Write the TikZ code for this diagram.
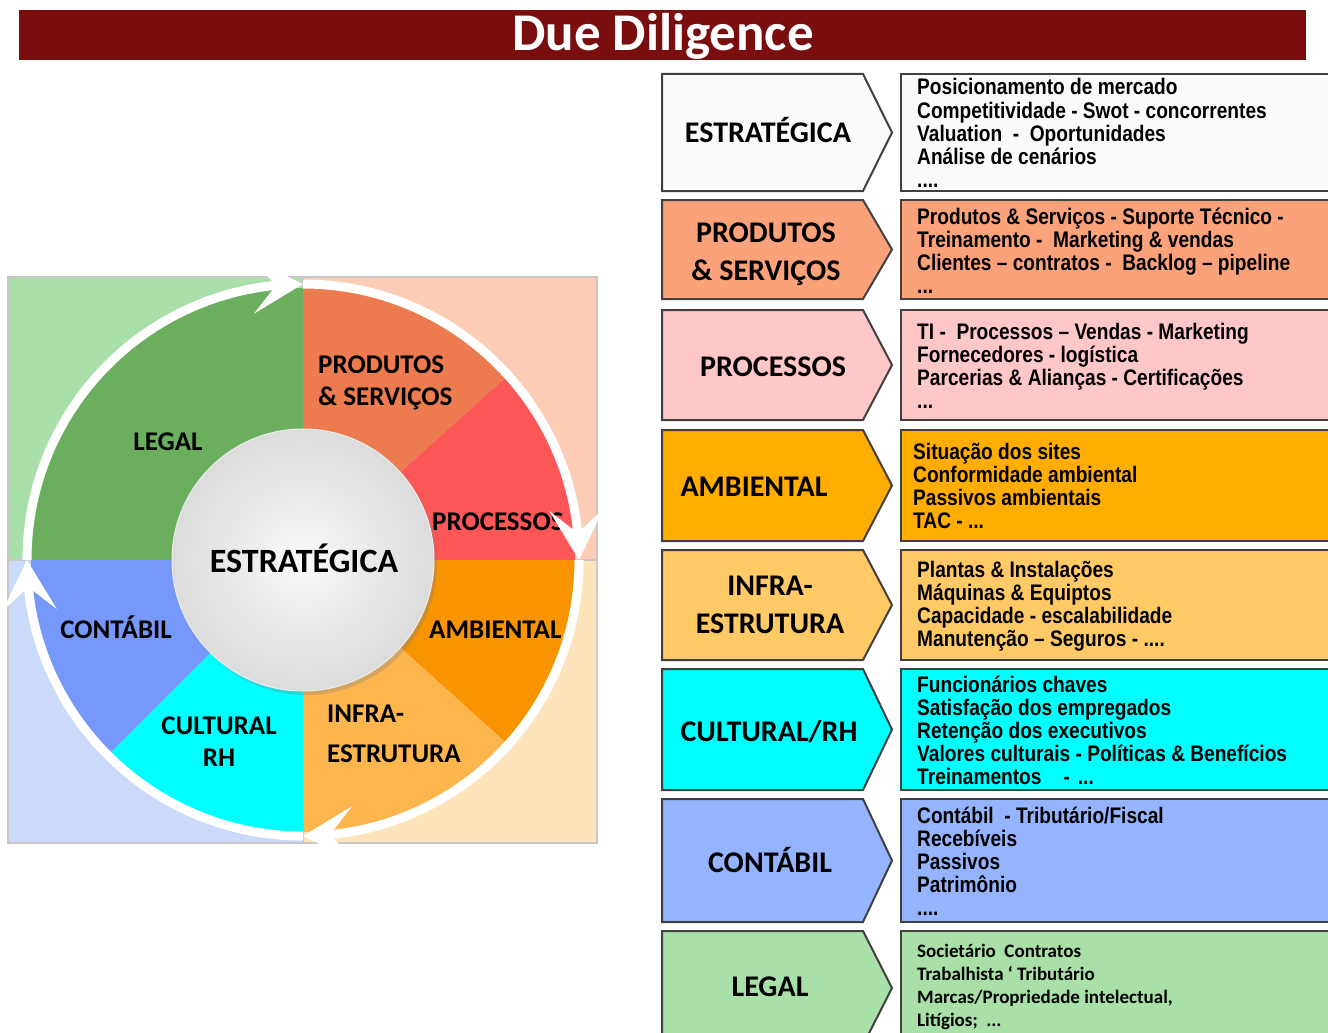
\documentclass[tikz,border=0pt]{standalone}
\usepackage{fontspec}
\setmainfont{Carlito}
\newfontfamily\bodyfont[FakeStretch=0.85]{Liberation Sans}
\usetikzlibrary{arrows.meta,bending,shadows}
\definecolor{titlered}{HTML}{7A0E0E}
\definecolor{sqTL}{HTML}{A9DFA9}
\definecolor{sqTR}{HTML}{FCCDB4}
\definecolor{sqBL}{HTML}{CBDAFB}
\definecolor{sqBR}{HTML}{FDE4BB}
\definecolor{secLegal}{HTML}{6BAF5E}
\definecolor{secProd}{HTML}{EC7C50}
\definecolor{secProc}{HTML}{FD5657}
\definecolor{secAmb}{HTML}{F79400}
\definecolor{secInfra}{HTML}{FDB54E}
\definecolor{secCult}{HTML}{00FFFF}
\definecolor{secCont}{HTML}{7798FB}
\definecolor{rowA}{HTML}{FAFAFA}
\definecolor{rowB}{HTML}{FBA27B}
\definecolor{rowC}{HTML}{FFC7C7}
\definecolor{rowD}{HTML}{FFAD00}
\definecolor{rowE}{HTML}{FFC966}
\definecolor{rowF}{HTML}{00FFFF}
\definecolor{rowG}{HTML}{94B4FF}
\definecolor{rowH}{HTML}{A8E0A8}
\definecolor{edge}{HTML}{404040}
\newcommand\thrdots{.{}.{}.}
\newcommand\frdots{.{}.{}.{}.}
\newcommand\inforow[3]{%
  \draw[chev,fill=#3] (662,#1) -- (863,#1) -- (892,{(#1+#2)/2}) -- (863,#2) -- (662,#2) -- cycle;
  \draw[infobox,fill=#3] (901,#1) rectangle (1345,#2);
}
\begin{document}
\begin{tikzpicture}[x=1pt,y=-1pt,
  chev/.style={draw=edge,line width=2pt,line join=miter},
  infobox/.style={draw=edge,line width=2pt},
  rowlabel/.style={anchor=base,inner sep=0pt,font=\bfseries\fontsize{30}{36}\selectfont},
  pielabel/.style={inner sep=0pt,font=\bfseries\fontsize{27}{32}\selectfont},
  bodyline/.style={anchor=base west,inner sep=0pt,font=\bodyfont\bfseries\fontsize{22.5}{23}\selectfont},
  legalline/.style={anchor=base west,inner sep=0pt,font=\bfseries\fontsize{19}{23}\selectfont},
  ring/.style={draw=white,line width=9pt,-{Stealth[length=50pt,width=54pt,inset=23pt]}},
  square/.style={draw=black!22,line width=1.5pt}
]
\useasboundingbox (0,0) rectangle (1328,1033);
\clip (0,0) rectangle (1328,1033);
\fill[white] (0,0) rectangle (1328,1033);

% title
\fill[titlered] (19,10) rectangle (1306,60);
\node[anchor=base,inner sep=0pt,text=white,font=\bfseries\fontsize{53}{60}\selectfont] (title) at (663,51) {Due Diligence};

% quadrant squares
\draw[square,fill=sqTL] (8,277) rectangle (303,560);
\draw[square,fill=sqTR] (303,277) rectangle (597,560);
\draw[square,fill=sqBL] (8,560) rectangle (303,843);
\draw[square,fill=sqBR] (303,560) rectangle (597,843);

% pie
\begin{scope}[shift={(303,560)},y=1pt]
  \fill[secLegal] (0,0) -- (180:272) arc[start angle=180,end angle=90,radius=272] -- cycle;
  \fill[secProd]  (0,0) -- (90:272) arc[start angle=90,end angle=42,radius=272] -- cycle;
  \fill[secProc]  (0,0) -- (42:272) arc[start angle=42,end angle=0,radius=272] -- cycle;
  \fill[secAmb]   (0,0) -- (0:272) arc[start angle=0,end angle=-42,radius=272] -- cycle;
  \fill[secInfra] (0,0) -- (-42:272) arc[start angle=-42,end angle=-90,radius=272] -- cycle;
  \fill[secCult]  (0,0) -- (-90:272) arc[start angle=-90,end angle=-135,radius=272] -- cycle;
  \fill[secCont]  (0,0) -- (-135:272) arc[start angle=-135,end angle=-180,radius=272] -- cycle;
\end{scope}

% pie labels
\node[pielabel,anchor=base west] (pProd1) at (318,373) {PRODUTOS};
\node[pielabel,anchor=base west] (pProd2) at (318,405) {\& SERVIÇOS};
\node[pielabel,anchor=base] (pLegal) at (168,450) {LEGAL};
\node[pielabel,anchor=base west] (pProc) at (432,530) {PROCESSOS};
\node[pielabel,anchor=base] (pCont) at (116,638) {CONTÁBIL};
\node[pielabel,anchor=base west] (pAmb) at (429,638) {AMBIENTAL};
\node[pielabel,anchor=base] (pCult1) at (219,734) {CULTURAL};
\node[pielabel,anchor=base] (pCult2) at (219,766) {RH};
\node[pielabel,anchor=base west] (pInfra1) at (327,722) {INFRA-};
\node[pielabel,anchor=base west] (pInfra2) at (327,762) {ESTRUTURA};

% centre ball
\node[circle,minimum size=262pt,inner sep=0pt,shading=radial,inner color=gray!4,outer color=gray!28,
      draw=white!85!gray,line width=1pt,
      drop shadow={opacity=0.3,shadow xshift=3pt,shadow yshift=-4pt}] (ball) at (303,560) {};
\node[anchor=base,inner sep=0pt,font=\bfseries\fontsize{34}{40}\selectfont] (ballText) at (304,572) {ESTRATÉGICA};

% ring with arrows
\begin{scope}[shift={(303,560)},y=1pt]
  \draw[ring] (180:276) arc[start angle=180,end angle=90,radius=276];
  \draw[ring] (90:276) arc[start angle=90,end angle=0,radius=276];
  \draw[ring] (0:276) arc[start angle=0,end angle=-90,radius=276];
  \draw[ring] (-90:276) arc[start angle=-90,end angle=-180,radius=276];
\end{scope}

% right-hand rows
\inforow{74}{191}{rowA}
\inforow{200}{299}{rowB}
\inforow{310}{420}{rowC}
\inforow{430}{541}{rowD}
\inforow{550}{660}{rowE}
\inforow{669}{790}{rowF}
\inforow{799}{922}{rowG}
\inforow{931}{1045}{rowH}

\node[rowlabel] (r1) at (768,142) {ESTRATÉGICA};
\node[rowlabel] (r2a) at (766,242) {PRODUTOS};
\node[rowlabel] (r2b) at (766,280) {\& SERVIÇOS};
\node[rowlabel] (r3) at (773,376) {PROCESSOS};
\node[rowlabel] (r4) at (754,496) {AMBIENTAL};
\node[rowlabel] (r5a) at (770,595) {INFRA-};
\node[rowlabel] (r5b) at (770,633) {ESTRUTURA};
\node[rowlabel] (r6) at (769,741) {CULTURAL/RH};
\node[rowlabel] (r7) at (770,872) {CONTÁBIL};
\node[rowlabel] (r8) at (770,996) {LEGAL};

\foreach \txt [count=\i] in {Posicionamento de mercado, Competitividade - Swot - concorrentes, Valuation~ - ~Oportunidades, Análise de cenários, \frdots}
  \node[bodyline] (t1-\i) at (917,{95+23*(\i-1)}) {\txt};
\foreach \txt [count=\i] in {Produtos \& Serviços - Suporte Técnico -, Treinamento - ~Marketing \& vendas, Clientes – contratos - ~Backlog – pipeline, \thrdots}
  \node[bodyline] (t2-\i) at (917,{224+23*(\i-1)}) {\txt};
\foreach \txt [count=\i] in {TI - ~Processos – Vendas - Marketing, Fornecedores - logística, Parcerias \& Alianças - Certificações, \thrdots}
  \node[bodyline] (t3-\i) at (917,{339+23*(\i-1)}) {\txt};
\foreach \txt [count=\i] in {Situação dos sites, Conformidade ambiental, Passivos ambientais, TAC - \thrdots}
  \node[bodyline] (t4-\i) at (913,{459+23*(\i-1)}) {\txt};
\foreach \txt [count=\i] in {Plantas \& Instalações, Máquinas \& Equiptos, Capacidade - escalabilidade, Manutenção – Seguros - \frdots}
  \node[bodyline] (t5-\i) at (917,{577+23*(\i-1)}) {\txt};
\foreach \txt [count=\i] in {Funcionários chaves, Satisfação dos empregados, Retenção dos executivos, Valores culturais - Políticas \& Benefícios, Treinamentos\hspace{22pt}-\hspace{8pt}\thrdots}
  \node[bodyline] (t6-\i) at (917,{692+23*(\i-1)}) {\txt};
\foreach \txt [count=\i] in {Contábil ~- Tributário/Fiscal, Recebíveis, Passivos, Patrimônio, \frdots}
  \node[bodyline] (t7-\i) at (917,{823+23*(\i-1)}) {\txt};
\foreach \txt [count=\i] in {Societário ~Contratos, Trabalhista ‘ Tributário, {Marcas/Propriedade intelectual,}, Litígios; ~\thrdots}
  \node[legalline] (t8-\i) at (917,{957+23.3*(\i-1)}) {\txt};
\end{tikzpicture}
\end{document}
